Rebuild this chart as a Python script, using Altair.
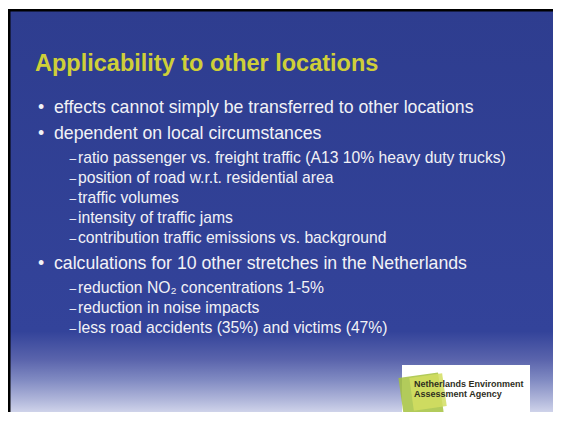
import altair as alt
import pandas as pd

# ---- content ----
title_text = ["Applicability to other locations"]
item_levels = [1, 1, 2, 2, 2, 2, 2, 1, 2, 2, 2]
item_texts = [
    "effects cannot simply be transferred to other locations",
    "dependent on local circumstances",
    "ratio passenger vs. freight traffic (A13 10% heavy duty trucks)",
    "position of road w.r.t. residential area",
    "traffic volumes",
    "intensity of traffic jams",
    "contribution traffic emissions vs. background",
    "calculations for 10 other stretches in the Netherlands",
    "reduction NO\u2082 concentrations 1-5%",
    "reduction in noise impacts",
    "less road accidents (35%) and victims (47%)",
]
logo_lines = ["Netherlands Environmental", "Assessment Agency"]

# ---- layout ----
W, H = 545, 404          # canvas (page offset 8px)
OFF = 8
FONT = "Liberation Sans, Arial, Helvetica, sans-serif"

def layout_rows(levels):
    ys = []
    y = 113
    prev = None
    for lv in levels:
        if prev is not None:
            if lv == 1:
                y += 26
            elif prev == 1:
                y += 24
            else:
                y += 20
        ys.append(y - OFF)
        prev = lv
    return ys

rows = layout_rows(item_levels)
items = pd.DataFrame({"text": item_texts, "level": item_levels, "y": rows})
items["x"] = items["level"].map({1: 54 - OFF, 2: 78 - OFF})
items["mx"] = items["level"].map({1: 38 - OFF, 2: 69.5 - OFF})
items["marker"] = items["level"].map({1: "\u2022", 2: "\u2013"})

xs = alt.Scale(domain=[0, W], range=[0, W], nice=False, zero=False)
ys = alt.Scale(domain=[0, H], range=[0, H], nice=False, zero=False)

base_rect = alt.Chart(pd.DataFrame({"a": [0]}))

bg = base_rect.mark_rect(
    color=alt.LinearGradient(
        gradient="linear", x1=0, x2=0, y1=0, y2=1,
        stops=[
            alt.GradientStop(color="#2e3d8f", offset=0),
            alt.GradientStop(color="#33439a", offset=0.80),
            alt.GradientStop(color="#5a64ac", offset=0.87),
            alt.GradientStop(color="#808ac2", offset=0.92),
            alt.GradientStop(color="#b0b6da", offset=0.97),
            alt.GradientStop(color="#cfd3ea", offset=1),
        ],
    )
).encode(x=alt.value(0), x2=alt.value(W), y=alt.value(1), y2=alt.value(H))

top_border = base_rect.mark_rect(color="#000000").encode(
    x=alt.value(0), x2=alt.value(W), y=alt.value(1), y2=alt.value(3.5))
left_border = base_rect.mark_rect(color="#000000").encode(
    x=alt.value(0), x2=alt.value(2.5), y=alt.value(1), y2=alt.value(H))

title = alt.Chart(pd.DataFrame({"t": title_text, "x": [35 - OFF], "y": [71 - OFF]})).mark_text(
    align="left", baseline="alphabetic", font=FONT, fontSize=23.5, fontWeight="bold",
    color="#cfcf38"
).encode(x=alt.X("x:Q", scale=xs, axis=None), y=alt.Y("y:Q", scale=ys, axis=None), text="t:N")

lvl1 = alt.Chart(items[items.level == 1])
lvl2 = alt.Chart(items[items.level == 2])
enc = dict(y=alt.Y("y:Q", scale=ys, axis=None))

t1 = lvl1.mark_text(align="left", baseline="alphabetic", font=FONT, fontSize=17.7,
                    color="#f2f2f6").encode(x=alt.X("x:Q", scale=xs, axis=None), text="text:N", **enc)
m1 = lvl1.mark_text(align="left", baseline="alphabetic", font=FONT, fontSize=17.7,
                    color="#f2f2f6").encode(x=alt.X("mx:Q", scale=xs, axis=None), text="marker:N", **enc)
t2 = lvl2.mark_text(align="left", baseline="alphabetic", font=FONT, fontSize=15.7,
                    color="#f2f2f6").encode(x=alt.X("x:Q", scale=xs, axis=None), text="text:N", **enc)
m2 = lvl2.mark_text(align="left", baseline="alphabetic", font=FONT, fontSize=12,
                    color="#f2f2f6").encode(x=alt.X("mx:Q", scale=xs, axis=None), text="marker:N", **enc)

# logo
logo_box = base_rect.mark_rect(color="#ffffff").encode(
    x=alt.value(402 - OFF), x2=alt.value(530 - OFF), y=alt.value(365 - OFF), y2=alt.value(H))
logo_sq = alt.Chart(pd.DataFrame({"x": [421 - OFF, 428 - OFF], "y": [395 - OFF, 392 - OFF],
                                  "s": [1600, 1100],
                                  "c": ["#a4c23e", "#d2de62"]})).mark_point(
    shape="square", filled=True, angle=352, opacity=0.85
).encode(x=alt.X("x:Q", scale=xs, axis=None), y=alt.Y("y:Q", scale=ys, axis=None),
         size=alt.Size("s:Q", scale=None), color=alt.Color("c:N", scale=None))
logo_txt = alt.Chart(pd.DataFrame({"t": logo_lines, "x": [414 - OFF] * 2,
                                   "y": [387 - OFF, 397 - OFF]})).mark_text(
    align="left", baseline="alphabetic", font=FONT, fontSize=9, fontWeight="bold",
    color="#2e2e1e", limit=115, ellipsis=" "
).encode(x=alt.X("x:Q", scale=xs, axis=None), y=alt.Y("y:Q", scale=ys, axis=None), text="t:N")

chart = alt.layer(bg, top_border, left_border, title, m1, t1, m2, t2,
                  logo_box, logo_sq, logo_txt).properties(
    width=W, height=H, padding=0, autosize=alt.AutoSizeParams(type="none"),
    background="#ffffff"
).configure_view(stroke=None, clip=False)

chart.save("out.html", embed_options={"renderer": "svg", "actions": False})
